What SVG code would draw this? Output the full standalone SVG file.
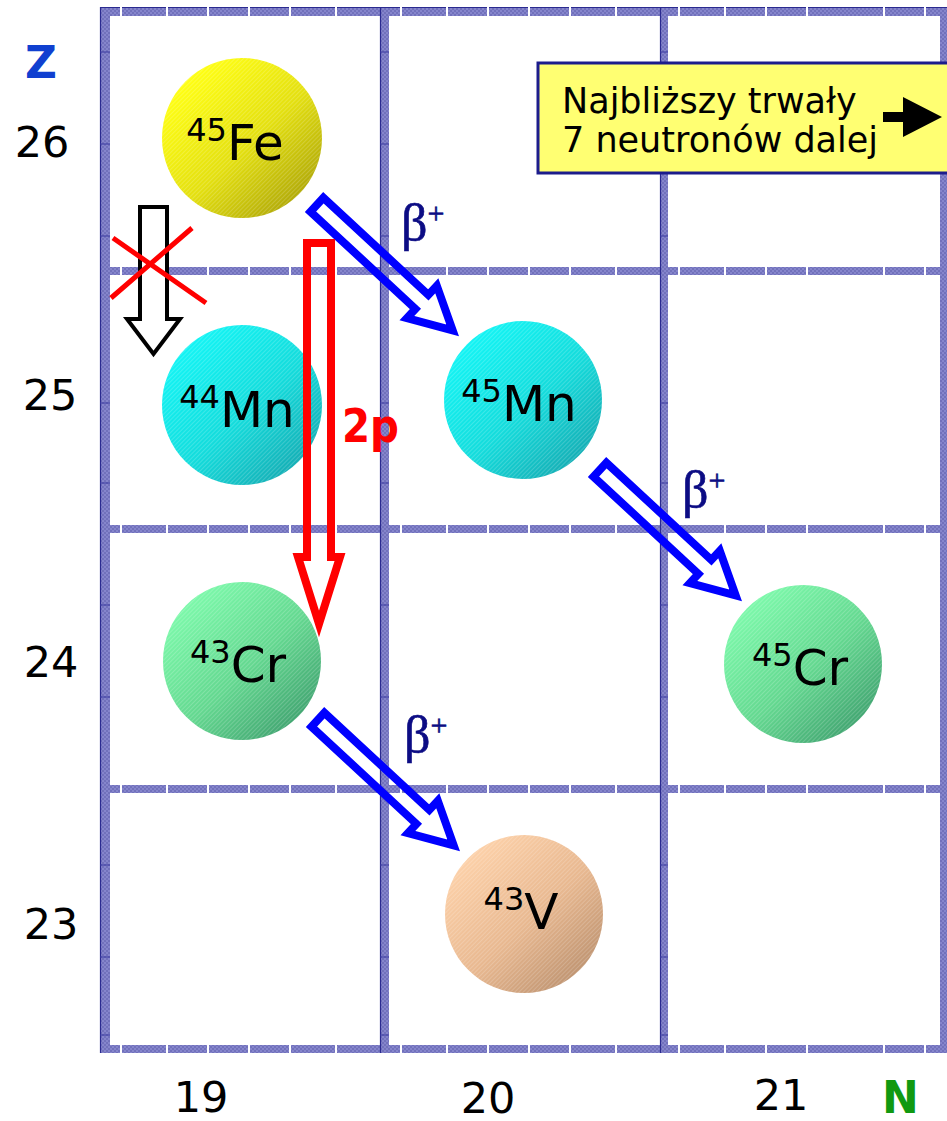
<svg xmlns="http://www.w3.org/2000/svg" width="947" height="1121" viewBox="0 0 947 1121">
  <defs>
    <!-- checkered fill of the chart frame -->
    <pattern id="chk" width="4" height="4" patternUnits="userSpaceOnUse">
      <rect width="4" height="4" fill="#8585cc"/>
      <rect width="2" height="2" fill="#7171bb"/>
      <rect x="2" y="2" width="2" height="2" fill="#7171bb"/>
    </pattern>
    <!-- fine diagonal hatching on the nuclide balls -->
    <pattern id="hatch" width="3" height="3" patternUnits="userSpaceOnUse" patternTransform="rotate(45)">
      <rect x="0" y="0" width="1" height="3" fill="#ffffff" fill-opacity="0.18"/>
    </pattern>
    <linearGradient id="gFe" x1="0.15" y1="0.15" x2="0.9" y2="0.95">
      <stop offset="0" stop-color="#ffff14"/>
      <stop offset="0.5" stop-color="#e4e010"/>
      <stop offset="1" stop-color="#a8a008"/>
    </linearGradient>
    <linearGradient id="gMn" x1="0.15" y1="0.15" x2="0.9" y2="0.95">
      <stop offset="0" stop-color="#14f4f4"/>
      <stop offset="0.5" stop-color="#14dcdc"/>
      <stop offset="1" stop-color="#16a6ae"/>
    </linearGradient>
    <linearGradient id="gCr" x1="0.15" y1="0.15" x2="0.9" y2="0.95">
      <stop offset="0" stop-color="#7cf8aa"/>
      <stop offset="0.5" stop-color="#64d890"/>
      <stop offset="1" stop-color="#3c9c6c"/>
    </linearGradient>
    <linearGradient id="gV" x1="0.15" y1="0.15" x2="0.9" y2="0.95">
      <stop offset="0" stop-color="#fcd0a8"/>
      <stop offset="0.5" stop-color="#e8b890"/>
      <stop offset="1" stop-color="#b88e6c"/>
    </linearGradient>
    <!-- hollow decay arrow along +x, tail at origin -->
    <path id="betaArrow" d="M4,-9.5 H147 V-22 L189,0 L147,22 V9.5 H4 Z"/>
  </defs>
  <style>
    .bar { fill: url(#chk); }
    .tickw { stroke: #ffffff; stroke-width: 2; }
    .tickd { stroke: #3a3aa0; stroke-width: 1.2; }
    .edge { stroke: #2a2a90; stroke-width: 1.2; fill: none; }
    .hatch { fill: url(#hatch); }
    .sym { font-family: "DejaVu Sans", "Noto Sans", sans-serif; fill: #000; }
    .sup { font-size: 32px; }
    .main { font-size: 50px; }
    .axis { font-family: "DejaVu Sans", "Noto Sans", sans-serif; font-size: 43px; fill: #000; text-anchor: middle; }
    .beta { font-family: "Liberation Serif", "DejaVu Serif", serif; font-size: 52px; fill: #0c0c84; stroke: #0c0c84; stroke-width: 0.6; }
    .beta tspan { font-size: 30px; }
    .blue { fill: none; stroke: #0000ff; stroke-width: 8; stroke-linejoin: miter; stroke-miterlimit: 10; }
    .note { font-family: "DejaVu Sans", "Noto Sans", sans-serif; font-size: 35px; fill: #000; }
  </style>

  <rect width="947" height="1121" fill="#ffffff"/>

  <!-- chart frame -->
  <g id="grid">
    <rect class="bar" x="100" y="7" width="847" height="9"/>
    <rect class="bar" x="100" y="267" width="847" height="8"/>
    <rect class="bar" x="100" y="525" width="847" height="8"/>
    <rect class="bar" x="100" y="785" width="847" height="8"/>
    <rect class="bar" x="100" y="1045" width="847" height="8"/>
    <rect class="bar" x="100" y="7" width="10" height="1046"/>
    <rect class="bar" x="380" y="7" width="9" height="1046"/>
    <rect class="bar" x="660" y="7" width="8" height="1046"/>
    <rect class="bar" x="940" y="7" width="9" height="1046"/>
    <path class="edge" d="M100,7.5 H947 M100.5,7 V1053 M380.5,7 V1053 M660.5,7 V1053"/>
    <!-- white joints on horizontal bars -->
    <g class="tickw">
      <path d="M121,7 v9 M167,7 v9 M208,7 v9 M249,7 v9 M290,7 v9 M336,7 v9 M401,7 v9 M447,7 v9 M488,7 v9 M529,7 v9 M570,7 v9 M616,7 v9 M679,7 v9 M725,7 v9 M766,7 v9 M807,7 v9 M884,7 v9 M925,7 v9"/>
      <path d="M121,267 v8 M167,267 v8 M208,267 v8 M249,267 v8 M290,267 v8 M336,267 v8 M401,267 v8 M447,267 v8 M488,267 v8 M529,267 v8 M570,267 v8 M616,267 v8 M679,267 v8 M725,267 v8 M766,267 v8 M807,267 v8 M884,267 v8 M925,267 v8"/>
      <path d="M121,525 v8 M167,525 v8 M208,525 v8 M249,525 v8 M290,525 v8 M336,525 v8 M401,525 v8 M447,525 v8 M488,525 v8 M529,525 v8 M570,525 v8 M616,525 v8 M679,525 v8 M725,525 v8 M766,525 v8 M807,525 v8 M884,525 v8 M925,525 v8"/>
      <path d="M121,785 v8 M167,785 v8 M208,785 v8 M249,785 v8 M290,785 v8 M336,785 v8 M401,785 v8 M447,785 v8 M488,785 v8 M529,785 v8 M570,785 v8 M616,785 v8 M679,785 v8 M725,785 v8 M766,785 v8 M807,785 v8 M884,785 v8 M925,785 v8"/>
      <path d="M121,1045 v8 M167,1045 v8 M208,1045 v8 M249,1045 v8 M290,1045 v8 M336,1045 v8 M401,1045 v8 M447,1045 v8 M488,1045 v8 M529,1045 v8 M570,1045 v8 M616,1045 v8 M679,1045 v8 M725,1045 v8 M766,1045 v8 M807,1045 v8 M884,1045 v8 M925,1045 v8"/>
    </g>
    <!-- dark joints on vertical bars -->
    <g class="tickd">
      <path d="M100,52 h10 M100,144 h10 M100,236 h10 M100,403 h10 M100,483 h10 M100,605 h10 M100,697 h10 M100,865 h10 M100,957 h10 M100,1035 h10"/>
      <path d="M380,52 h9 M380,144 h9 M380,236 h9 M380,403 h9 M380,483 h9 M380,605 h9 M380,697 h9 M380,865 h9 M380,957 h9 M380,1035 h9"/>
      <path d="M660,52 h8 M660,144 h8 M660,236 h8 M660,403 h8 M660,483 h8 M660,605 h8 M660,697 h8 M660,865 h8 M660,957 h8 M660,1035 h8"/>
    </g>
  </g>

  <!-- axis labels -->
  <g id="axes">
    <text x="25" y="78" font-family="DejaVu Sans, Noto Sans, sans-serif" font-weight="bold" font-size="44" fill="#1040d0">Z</text>
    <text class="axis" x="42" y="157">26</text>
    <text class="axis" x="50" y="410">25</text>
    <text class="axis" x="51" y="677">24</text>
    <text class="axis" x="51" y="939">23</text>
    <text class="axis" x="201" y="1112">19</text>
    <text class="axis" x="488" y="1113">20</text>
    <text class="axis" x="781" y="1110">21</text>
    <text x="882" y="1113" font-family="DejaVu Sans, Noto Sans, sans-serif" font-weight="bold" font-size="44" fill="#119911">N</text>
  </g>

  <!-- nuclides -->
  <g id="fe45">
    <circle cx="242" cy="138" r="80" fill="url(#gFe)"/>
    <circle class="hatch" cx="242" cy="138" r="80"/>
    <text class="sym" x="235" y="160" text-anchor="middle"><tspan class="sup" dy="-19">45</tspan><tspan class="main" dy="19">Fe</tspan></text>
  </g>
  <g id="mn44">
    <circle cx="242" cy="405" r="80" fill="url(#gMn)"/>
    <circle class="hatch" cx="242" cy="405" r="80"/>
    <text class="sym" x="237" y="427" text-anchor="middle"><tspan class="sup" dy="-19">44</tspan><tspan class="main" dy="19">Mn</tspan></text>
  </g>
  <g id="mn45">
    <circle cx="523" cy="400" r="79" fill="url(#gMn)"/>
    <circle class="hatch" cx="523" cy="400" r="79"/>
    <text class="sym" x="519" y="421" text-anchor="middle"><tspan class="sup" dy="-19">45</tspan><tspan class="main" dy="19">Mn</tspan></text>
  </g>
  <g id="cr43">
    <circle cx="242" cy="661" r="79" fill="url(#gCr)"/>
    <circle class="hatch" cx="242" cy="661" r="79"/>
    <text class="sym" x="238" y="682" text-anchor="middle"><tspan class="sup" dy="-19">43</tspan><tspan class="main" dy="19">Cr</tspan></text>
  </g>
  <g id="cr45">
    <circle cx="803" cy="664" r="79" fill="url(#gCr)"/>
    <circle class="hatch" cx="803" cy="664" r="79"/>
    <text class="sym" x="800" y="685" text-anchor="middle"><tspan class="sup" dy="-19">45</tspan><tspan class="main" dy="19">Cr</tspan></text>
  </g>
  <g id="v43">
    <circle cx="524" cy="914" r="79" fill="url(#gV)"/>
    <circle class="hatch" cx="524" cy="914" r="79"/>
    <text class="sym" x="521" y="929" text-anchor="middle"><tspan class="sup" dy="-19">43</tspan><tspan class="main" dy="19">V</tspan></text>
  </g>

  <!-- decay connectors -->
  <g id="connectors">
    <use href="#betaArrow" class="blue" transform="translate(314,202) rotate(42.8)"/>
    <use href="#betaArrow" class="blue" transform="translate(597,467) rotate(42.8)"/>
    <use href="#betaArrow" class="blue" transform="translate(315,717) rotate(42.8)"/>
    <!-- two-proton emission -->
    <path d="M307,243 H331 V557 H340 L319,624 L298,557 H307 Z" fill="none" stroke="#ff0000" stroke-width="8" stroke-miterlimit="10"/>
    <!-- forbidden single-proton emission -->
    <path d="M140,207 H167 V319 H180 L153.5,354 L127,319 H140 Z" fill="#ffffff" stroke="#000000" stroke-width="4" stroke-miterlimit="10"/>
    <path d="M113,238 L206,303 M192,228 L111,298" stroke="#ff0000" stroke-width="5" fill="none"/>
  </g>

  <!-- decay labels -->
  <g id="labels">
    <text class="beta" x="401" y="240">β<tspan dy="-17">+</tspan></text>
    <text class="beta" x="682" y="507">β<tspan dy="-17">+</tspan></text>
    <text class="beta" x="404" y="752">β<tspan dy="-17">+</tspan></text>
    <text x="342" y="442" font-family="DejaVu Sans, Noto Sans, sans-serif" font-weight="bold" font-size="46" fill="#ff0000" textLength="57" lengthAdjust="spacingAndGlyphs">2p</text>
  </g>

  <!-- note box -->
  <g id="note">
    <rect x="538" y="63" width="420" height="110" fill="#ffff72" stroke="#1c1c8c" stroke-width="3"/>
    <text class="note" x="562" y="113">Najbliższy trwały</text>
    <text class="note" x="562" y="152">7 neutronów dalej</text>
    <polygon points="883,112 903,112 903,97 942,117 903,137 903,122 883,122" fill="#000000"/>
  </g>
</svg>
